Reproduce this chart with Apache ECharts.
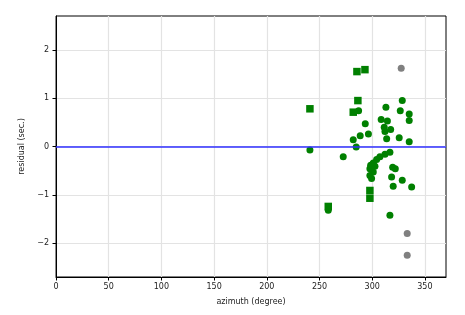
<!DOCTYPE html>
<html>
<head>
<meta charset="utf-8">
<script src="https://cdn.jsdelivr.net/npm/echarts@6/dist/echarts.min.js"></script>
<style>html,body{margin:0;padding:0;background:#fff;}#c{width:465px;height:315px;}</style>
</head>
<body>
<div id="c"></div>
<script>
// Tick labels
const xTicks = [0, 50, 100, 150, 200, 250, 300, 350];
const yTicks = [-2, -1, 0, 1, 2];

// Green circles: azimuth, residual
const circleAz = [240.9, 272.5, 284.8, 258.3, 287.1, 313.0, 328.5, 326.6, 335.1, 335.1,
  308.5, 314.4, 293.4, 311.4, 317.5, 312.1, 313.7, 296.4, 288.6, 282.0,
  325.6, 335.1, 316.8, 312.1, 307.3, 304.2, 301.0, 298.5, 302.6, 297.8,
  301.0, 297.8, 299.4, 319.4, 321.9, 318.4, 328.5, 319.9, 337.4, 316.8];
const circleRes = [-0.07, -0.21, -0.01, -1.32, 0.74, 0.81, 0.95, 0.74, 0.67, 0.54,
  0.56, 0.53, 0.47, 0.40, 0.35, 0.31, 0.16, 0.26, 0.22, 0.14,
  0.18, 0.10, -0.12, -0.16, -0.21, -0.27, -0.34, -0.39, -0.41, -0.46,
  -0.53, -0.60, -0.66, -0.43, -0.46, -0.63, -0.70, -0.82, -0.84, -1.42];

// Green squares
const squareAz = [240.9, 285.5, 293.1, 286.4, 282.0, 258.3, 297.8, 297.8];
const squareRes = [0.78, 1.55, 1.59, 0.95, 0.71, -1.24, -0.91, -1.07];

// Gray circles
const grayAz = [327.5, 333.2, 333.2];
const grayRes = [1.62, -1.80, -2.25];

const zip = (a, b) => a.map((v, i) => [v, b[i]]);

const chart = echarts.init(document.getElementById('c'), null, {renderer: 'canvas'});
const font = 'DejaVu Sans';
chart.setOption({
  animation: false,
  backgroundColor: '#fff',
  grid: {left: 56, right: 19, top: 16, bottom: 38, show: true, borderColor: '#000', borderWidth: 1, backgroundColor: 'transparent'},
  xAxis: {
    type: 'value', min: 0, max: 370, interval: 50,
    name: 'azimuth (degree)', nameLocation: 'middle', nameGap: 21,
    nameTextStyle: {fontFamily: font, fontSize: 8, color: '#222'},
    axisLine: {show: true, onZero: false, lineStyle: {color: '#000', width: 1}},
    axisTick: {show: true, length: 3.5, lineStyle: {color: '#000'}, customValues: xTicks},
    axisLabel: {fontFamily: font, fontSize: 8, color: '#222', margin: 6, customValues: xTicks},
    splitLine: {show: true, lineStyle: {color: '#e3e3e3', width: 1.2}}
  },
  yAxis: {
    type: 'value', min: -2.7, max: 2.7,
    name: 'residual (sec.)', nameLocation: 'middle', nameGap: 30, nameRotate: 90,
    nameTextStyle: {fontFamily: font, fontSize: 8, color: '#222'},
    axisLine: {show: true, onZero: false, lineStyle: {color: '#000', width: 1}},
    axisTick: {show: true, length: 3.5, lineStyle: {color: '#000'}, customValues: yTicks},
    axisLabel: {fontFamily: font, fontSize: 8, color: '#222', margin: 7, customValues: yTicks,
      formatter: v => (v < 0 ? '\u2212' + Math.abs(v) : String(v))},
    splitLine: {show: true, lineStyle: {color: '#e3e3e3', width: 1.2}}
  },
  series: [
    {
      type: 'scatter', name: 'gray', data: zip(grayAz, grayRes),
      symbol: 'circle', symbolSize: 7, itemStyle: {color: '#808080', opacity: 1}
    },
    {
      type: 'scatter', name: 'squares', data: zip(squareAz, squareRes),
      symbol: 'rect', symbolSize: 7.5, itemStyle: {color: '#008000', opacity: 1}
    },
    {
      type: 'scatter', name: 'circles', data: zip(circleAz, circleRes),
      symbol: 'circle', symbolSize: 7, itemStyle: {color: '#008000', opacity: 1},
      markLine: {
        silent: true, symbol: ['none', 'none'], label: {show: false},
        lineStyle: {color: '#2f2fff', width: 1.5, type: 'solid'},
        data: [{yAxis: 0}]
      }
    }
  ]
});
</script>
</body>
</html>
